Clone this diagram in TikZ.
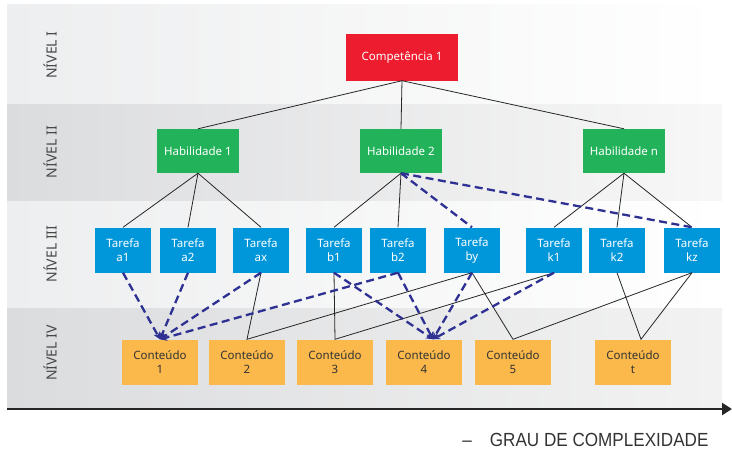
\documentclass[tikz,border=0pt]{standalone}
\usepackage{fontspec}
\setmainfont{Noto Sans}
\newfontfamily\condfont[FakeStretch=0.9]{Liberation Sans}
\usetikzlibrary{arrows.meta}

\definecolor{compred}{HTML}{ED1C2E}
\definecolor{habgreen}{HTML}{22B25A}
\definecolor{tarblue}{HTML}{0097DA}
\definecolor{contorange}{HTML}{FBB84B}
\definecolor{depblue}{HTML}{2E3192}
\definecolor{textgray}{HTML}{333333}
\definecolor{bandlight}{HTML}{EDEEEF}
\definecolor{banddark}{HTML}{DBDCDE}

\begin{document}
\begin{tikzpicture}[x=1pt,y=-1pt,>=Stealth,every node/.style={font=\fontsize{11.5}{14}\selectfont},
  comp/.style={fill=compred,text=white,minimum width=112,minimum height=47,inner sep=0},
  hab/.style={fill=habgreen,text=white,minimum width=82,minimum height=44,inner sep=0},
  taref/.style={fill=tarblue,text=white,align=center,minimum width=56,minimum height=45,inner sep=0},
  cont/.style={fill=contorange,text=textgray,align=center,minimum width=76,minimum height=45,inner sep=0},
  nivel/.style={rotate=90,text=textgray!90,font=\fontsize{14}{16}\selectfont},
  tree/.style={draw=black!85,line width=0.8},
  dep/.style={draw=depblue,line width=2.3,dash pattern=on 8 off 4.5},
  deptip/.style={dep,-{Stealth[length=7,width=7]}}]
\useasboundingbox (0,0) rectangle (732,453);
% faixas dos niveis
\shade[left color=bandlight,right color=white] (7,4) rectangle (722,104);
\shade[left color=banddark,right color=white!97!black] (7,104) rectangle (722,201);
\shade[left color=bandlight,right color=white] (7,201) rectangle (722,308);
\shade[left color=banddark,right color=white!95!black] (7,308) rectangle (722,409);
\node[nivel] (niv1) at (50,55) {NÍVEL I};
\node[nivel] (niv2) at (50,152) {NÍVEL II};
\node[nivel] (niv3) at (50,254) {NÍVEL III};
\node[nivel] (niv4) at (50,353) {NÍVEL IV};

% nivel I e II
\node[comp] (comp) at (402,57) {Competência 1};
\node[hab] (hab1) at (198,151) {Habilidade 1};
\node[hab] (hab2) at (401,151) {Habilidade 2};
\node[hab] (habn) at (624,151) {Habilidade n};

% nivel III
\node[taref] (ta1) at (123,250) {Tarefa\\a1};
\node[taref] (ta2) at (188,250) {Tarefa\\a2};
\node[taref] (tax) at (261,250) {Tarefa\\ax};
\node[taref] (tb1) at (334,250) {Tarefa\\b1};
\node[taref] (tb2) at (398,250) {Tarefa\\b2};
\node[taref] (tby) at (472,250) {Tarefa\\by};
\node[taref] (tk1) at (554,250) {Tarefa\\k1};
\node[taref] (tk2) at (617,250) {Tarefa\\k2};
\node[taref] (tkz) at (692,250) {Tarefa\\kz};

% nivel IV
\node[cont] (c1) at (160,362) {Conteúdo\\1};
\node[cont] (c2) at (247,362) {Conteúdo\\2};
\node[cont] (c3) at (335,362) {Conteúdo\\3};
\node[cont] (c4) at (424,362) {Conteúdo\\4};
\node[cont] (c5) at (513,362) {Conteúdo\\5};
\node[cont] (ct) at (633,362) {Conteúdo\\t};

\draw[tree] (comp.south) -- (hab1.north);
\draw[tree] (comp.south) -- (hab2.north);
\draw[tree] (comp.south) -- (habn.north);
\draw[tree] (hab1.south) -- (ta1.north);
\draw[tree] (hab1.south) -- (ta2.north);
\draw[tree] (hab1.south) -- (tax.north);
\draw[tree] (hab2.south) -- (tb1.north);
\draw[tree] (hab2.south) -- (tb2.north);
\draw[tree] (habn.south) -- (tk1.north);
\draw[tree] (habn.south) -- (tk2.north);
\draw[tree] (habn.south) -- (tkz.north);
\draw[dep] (hab2.south) -- (tby.north);
\draw[dep] (hab2.south) -- (tkz.north);

\draw[tree] (tax.south) -- (c2.north) -- (tby.south);
\draw[tree] (tb1.south) -- (c3.north) -- (tk1.south);
\draw[tree] (tby.south) -- (c5.north) -- (tkz.south);
\draw[tree] (tk2.south) -- ([xshift=8]ct.north) -- (tkz.south);

\draw[deptip] (ta1.south) -- (c1.north);
\draw[deptip] (ta2.south) -- (c1.north);
\draw[deptip] (tax.south) -- (c1.north);
\draw[deptip] (tb2.south) -- (c1.north);
\draw[deptip] (tb1.south) -- ([xshift=9]c4.north);
\draw[deptip] (tb2.south) -- ([xshift=9]c4.north);
\draw[deptip] (tby.south) -- ([xshift=9]c4.north);
\draw[deptip] (tk1.south) -- ([xshift=9]c4.north);

% eixo
\coordinate (eixoa) at (7,409);
\coordinate (eixob) at (732,409);
\draw[line width=2.4,draw=black!85,-{Triangle[length=10,width=12]}] (eixoa) -- (eixob);
\node[font=\condfont\fontsize{19}{22}\selectfont,text=textgray,anchor=east] (grau) at (712,440) {–\hspace{18pt}GRAU DE COMPLEXIDADE};
\end{tikzpicture}
\end{document}
